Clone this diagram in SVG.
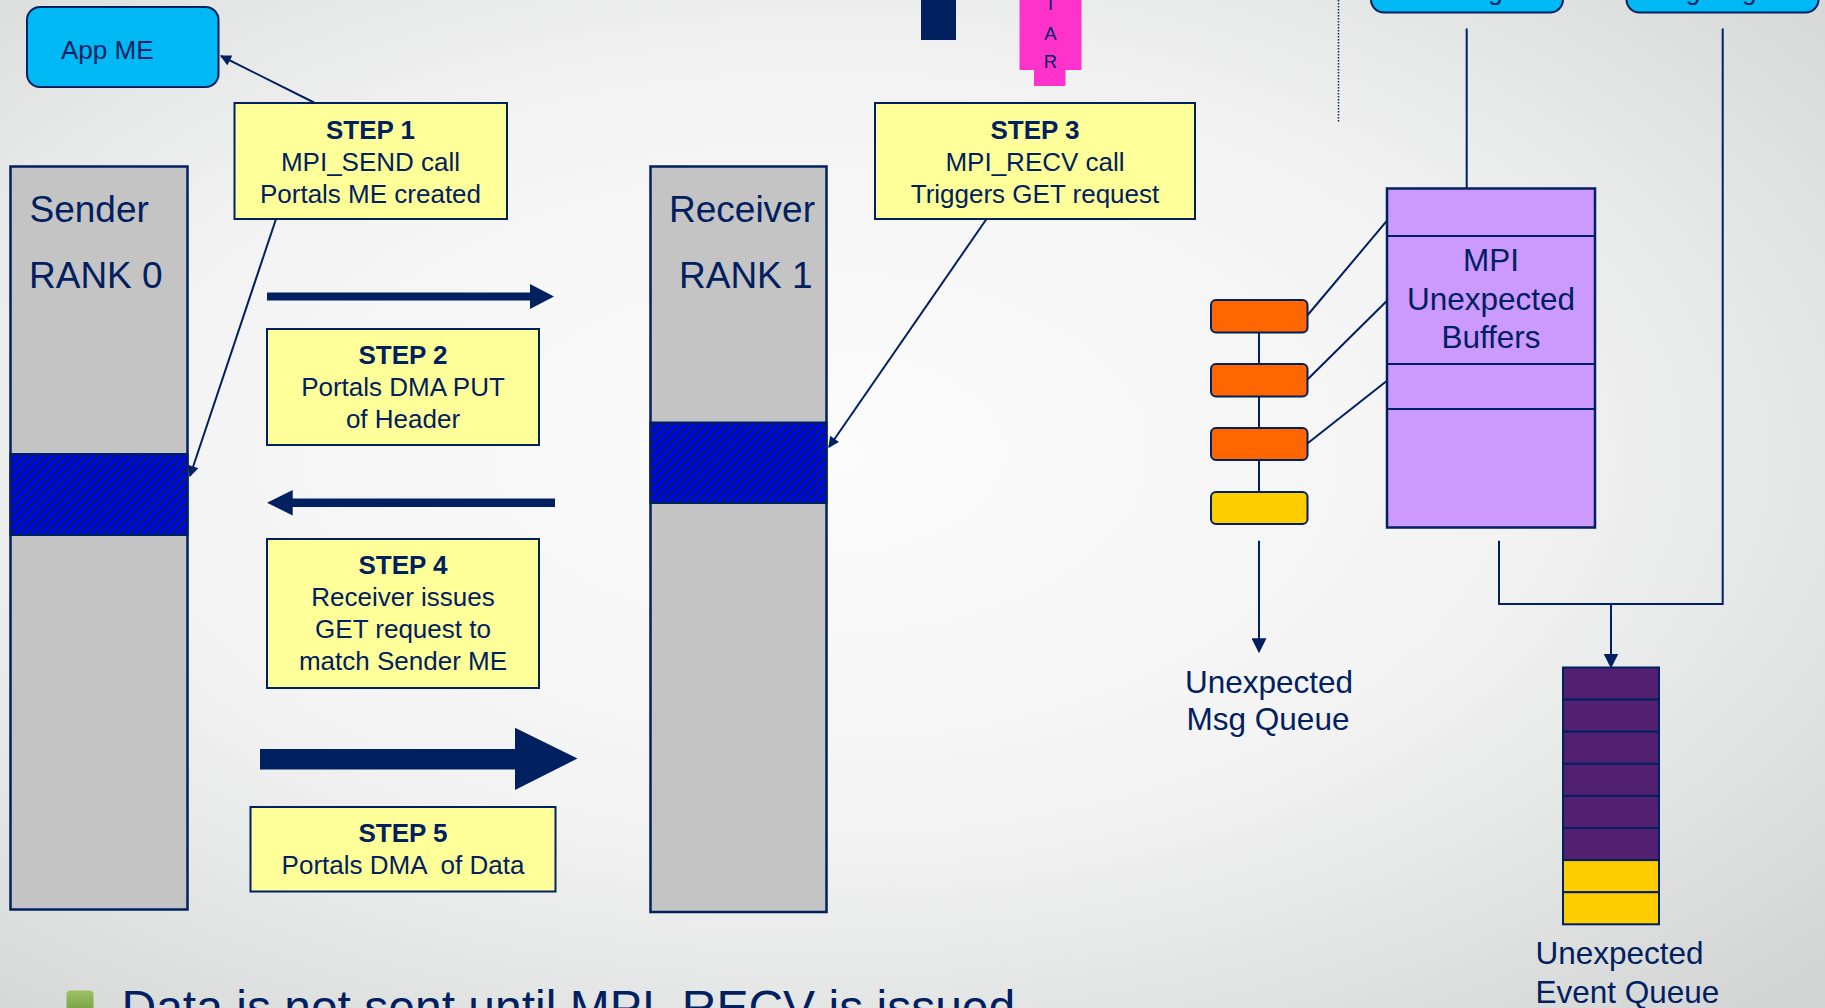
<svg xmlns="http://www.w3.org/2000/svg" width="1825" height="1008" viewBox="0 0 1825 1008">
<style>
text{font-family:"Liberation Sans",Arial,sans-serif;fill:#002060}
.st{font-size:26px;text-anchor:middle}
.b{font-weight:bold}
.big{font-size:37px}
.lbl{font-size:31.5px}
.step{fill:#FFFF99;stroke:#002060;stroke-width:2}
.mem{fill:#C4C4C4;stroke:#002060;stroke-width:2.5}
.cyan{fill:#00B8F4;stroke:#002060;stroke-width:2}
.conn{stroke:#002060;stroke-width:2;fill:none}
.org{fill:#FF6600;stroke:#002060;stroke-width:2}
.yel{fill:#FFCC00;stroke:#002060;stroke-width:2}
.evp{fill:#522070;stroke:#002060;stroke-width:2}
.evy{fill:#FFCC00;stroke:#002060;stroke-width:2}
.big-arrow{fill:#002060}
</style>
<defs>
<radialGradient id="bg" cx="0.45" cy="0.45" r="0.75">
<stop offset="0" stop-color="#FCFCFC"/>
<stop offset="0.5" stop-color="#F3F3F3"/>
<stop offset="1" stop-color="#D3D5D5"/>
</radialGradient>
<linearGradient id="grn" x1="0" y1="0" x2="0" y2="1">
<stop offset="0" stop-color="#9DC266"/>
<stop offset="1" stop-color="#6A983A"/>
</linearGradient>
<pattern id="hatch" patternUnits="userSpaceOnUse" width="6" height="6" patternTransform="rotate(45)">
<rect width="6" height="6" fill="#0000FF"/>
<rect width="2.6" height="6" fill="#002060"/>
</pattern>
<marker id="ah" viewBox="0 0 10 10" refX="9" refY="5" markerWidth="13" markerHeight="11" markerUnits="userSpaceOnUse" orient="auto">
<path d="M0,0 L10,5 L0,10 z" fill="#002060"/>
</marker>
<marker id="ahd" viewBox="0 0 10 10" refX="9" refY="5" markerWidth="15" markerHeight="15" markerUnits="userSpaceOnUse" orient="auto">
<path d="M0,0 L10,5 L0,10 z" fill="#002060"/>
</marker>
</defs>
<rect x="0" y="0" width="1825" height="1008" fill="url(#bg)"/>

<g id="top-navy"><rect x="921" y="0" width="35" height="40" fill="#002060"/></g>
<g id="top-magenta">
<rect x="1019.5" y="0" width="62" height="70" fill="#FF33CC"/>
<rect x="1034" y="69" width="31.5" height="17" fill="#FF33CC"/>
<text x="1050.5" y="9.5" font-size="18.5" text-anchor="middle">I</text>
<text x="1050.5" y="39.5" font-size="18.5" text-anchor="middle">A</text>
<text x="1050.5" y="67.5" font-size="18.5" text-anchor="middle">R</text>
</g>
<g id="short-msg-me">
<rect x="1371" y="-40" width="192" height="52.5" rx="13" class="cyan"/>
<text x="1466.5" y="0" class="st">Short Msg ME</text>
</g>
<g id="long-msg-me">
<rect x="1626.5" y="-40" width="192" height="52.5" rx="13" class="cyan"/>
<text x="1722.5" y="0" class="st">Long Msg ME</text>
</g>

<g id="app-me">
<rect x="27" y="7" width="191.5" height="80" rx="13" class="cyan"/>
<text x="61" y="59" font-size="26">App ME</text>
</g>

<g id="sender">
<rect x="10.5" y="166.5" width="177" height="743" class="mem"/>
<rect x="10.5" y="454" width="177" height="81" fill="url(#hatch)" stroke="#002060" stroke-width="2"/>
<text x="29.5" y="222" class="big">Sender</text>
<text x="29" y="288" class="big">RANK 0</text>
</g>

<g id="receiver">
<rect x="650.5" y="166.5" width="176" height="745.5" class="mem"/>
<rect x="650.5" y="422.5" width="176" height="80.5" fill="url(#hatch)" stroke="#002060" stroke-width="2"/>
<text x="669" y="222" class="big">Receiver</text>
<text x="679" y="288" class="big">RANK 1</text>
</g>

<g id="step1">
<rect x="234.5" y="103" width="272.5" height="116" class="step"/>
<text x="370.5" y="138.5" class="st b">STEP 1</text>
<text x="370.5" y="170.5" class="st">MPI_SEND call</text>
<text x="370.5" y="202.5" class="st">Portals ME created</text>
</g>

<g id="step2">
<rect x="267" y="329" width="272" height="116" class="step"/>
<text x="403" y="363.5" class="st b">STEP 2</text>
<text x="403" y="395.5" class="st">Portals DMA PUT</text>
<text x="403" y="427.5" class="st">of Header</text>
</g>

<g id="step3">
<rect x="875" y="103" width="320" height="116" class="step"/>
<text x="1035" y="138.5" class="st b">STEP 3</text>
<text x="1035" y="170.5" class="st">MPI_RECV call</text>
<text x="1035" y="202.5" class="st">Triggers GET request</text>
</g>

<g id="step4">
<rect x="267" y="539" width="272" height="149" class="step"/>
<text x="403" y="574" class="st b">STEP 4</text>
<text x="403" y="606" class="st">Receiver issues</text>
<text x="403" y="638" class="st">GET request to</text>
<text x="403" y="670" class="st">match Sender ME</text>
</g>

<g id="step5">
<rect x="250.5" y="807" width="305" height="84.5" class="step"/>
<text x="403" y="842" class="st b">STEP 5</text>
<text x="403" y="874" class="st" xml:space="preserve">Portals DMA  of Data</text>
</g>

<g id="mpi-unexpected-buffers">
<rect x="1387" y="188.5" width="208" height="339" fill="#CC99FF" stroke="#002060" stroke-width="2.5"/>
<line x1="1387" y1="236" x2="1595" y2="236" class="conn"/>
<line x1="1387" y1="364" x2="1595" y2="364" class="conn"/>
<line x1="1387" y1="409" x2="1595" y2="409" class="conn"/>
<text x="1491" y="271" class="lbl" text-anchor="middle">MPI</text>
<text x="1491" y="309.5" class="lbl" text-anchor="middle">Unexpected</text>
<text x="1491" y="348" class="lbl" text-anchor="middle">Buffers</text>
</g>

<g id="unexpected-msg-queue">
<line x1="1259" y1="332" x2="1259" y2="492" class="conn"/>
<rect x="1211" y="300" width="96.5" height="32.5" rx="5" class="org"/>
<rect x="1211" y="364" width="96.5" height="32.5" rx="5" class="org"/>
<rect x="1211" y="428" width="96.5" height="32" rx="5" class="org"/>
<rect x="1211" y="492" width="96.5" height="32" rx="5" class="yel"/>
<text x="1269" y="693" class="lbl" text-anchor="middle">Unexpected</text>
<text x="1268" y="730" class="lbl" text-anchor="middle">Msg Queue</text>
</g>

<g id="unexpected-event-queue">
<rect x="1563" y="667.5" width="96" height="32.1" class="evp"/>
<rect x="1563" y="699.6" width="96" height="32.1" class="evp"/>
<rect x="1563" y="731.7" width="96" height="32.1" class="evp"/>
<rect x="1563" y="763.8" width="96" height="32.1" class="evp"/>
<rect x="1563" y="795.9" width="96" height="32.1" class="evp"/>
<rect x="1563" y="828" width="96" height="32.1" class="evp"/>
<rect x="1563" y="860.1" width="96" height="32.1" class="evy"/>
<rect x="1563" y="892.2" width="96" height="32.1" class="evy"/>
<text x="1535.5" y="964" class="lbl">Unexpected</text>
<text x="1535.5" y="1002.5" class="lbl">Event Queue</text>
</g>

<g id="bullet">
<rect x="66.5" y="990.5" width="27" height="27" rx="4" fill="url(#grn)"/>
<text x="121.5" y="1024" font-size="48">Data is not sent until MPI_RECV is issued</text>
</g>

<g id="connectors">
<line x1="314" y1="102.5" x2="221" y2="56" class="conn" marker-end="url(#ah)"/>
<line x1="276" y1="219" x2="190" y2="476" class="conn" marker-end="url(#ah)"/>
<line x1="986.5" y1="219" x2="829" y2="447" class="conn" marker-end="url(#ah)"/>
<line x1="1338.5" y1="0" x2="1338.5" y2="121.5" stroke="#002060" stroke-width="1.5" stroke-dasharray="1.5 1.5"/>
<line x1="1466.7" y1="28.5" x2="1466.7" y2="188" class="conn"/>
<line x1="1307.7" y1="315" x2="1387" y2="220.7" class="conn"/>
<line x1="1307.7" y1="379.3" x2="1387" y2="300.7" class="conn"/>
<line x1="1307.7" y1="443.3" x2="1387" y2="380.7" class="conn"/>
<line x1="1259" y1="540.7" x2="1259" y2="651.7" class="conn" marker-end="url(#ahd)"/>
<polyline points="1499,540.7 1499,604 1722.7,604 1722.7,28.5" class="conn"/>
<line x1="1611" y1="604" x2="1611" y2="667" class="conn" marker-end="url(#ahd)"/>
<path class="big-arrow" d="M267,292.5 L530,292.5 L530,284 L554,296.5 L530,309 L530,300.5 L267,300.5 Z"/>
<path class="big-arrow" d="M555,498.5 L292.7,498.5 L292.7,490 L267,502.7 L292.7,515.5 L292.7,507 L555,507 Z"/>
<path class="big-arrow" d="M260,749 L515,749 L515,727.7 L577.5,758.5 L515,790 L515,769.5 L260,769.5 Z"/>
</g>
</svg>
